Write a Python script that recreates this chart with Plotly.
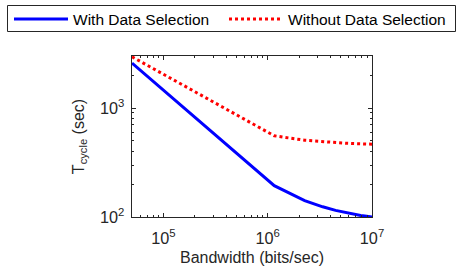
import plotly.graph_objects as go

bandwidth = [50000, 1155600, 2261100, 3366700, 4472200, 5577800, 6683300, 7788900, 8894400, 10000000]
with_selection = [2580, 194, 141.5, 124, 115, 109.6, 106, 103.4, 101.5, 100]
without_selection = [2950, 556, 506, 489, 480, 475, 471.5, 469, 467, 466]

FONT = "Liberation Sans, Arial, sans-serif"
AX = "#262626"

W, H = 457, 274
L, R, T, B = 132, 85, 56, 57
pw, ph = W - L - R, H - T - B

def px(x):
    return (x - L) / pw

def py(y):
    return 1 + (T - y) / ph

fig = go.Figure()
fig.add_trace(go.Scatter(x=bandwidth, y=with_selection, mode="lines",
                         name="With Data Selection", legend="legend",
                         line=dict(color="#0000ff", width=3)))
fig.add_trace(go.Scatter(x=bandwidth, y=without_selection, mode="lines",
                         name="Without Data Selection", legend="legend2",
                         line=dict(color="#ff0000", width=3, dash="dot")))

axis_common = dict(
    type="log", showline=True, linecolor=AX, linewidth=1, mirror="ticks",
    ticks="inside", ticklen=4, tickcolor=AX, showgrid=False, zeroline=False,
    exponentformat="power", dtick=1, automargin=False,
    tickfont=dict(family=FONT, size=13, color=AX),
    minor=dict(ticks="inside", ticklen=2, tickcolor=AX, dtick="D1", showgrid=False),
)

fig.update_xaxes(range=[4.69897, 7], ticklabelstandoff=7,
                 title=dict(text="Bandwidth (bits/sec)", font=dict(family=FONT, size=16, color=AX), standoff=5),
                 **axis_common)
fig.update_yaxes(range=[2, 3.47712], ticklabelstandoff=4,
                 title=dict(text="T<sub>cycle</sub> (sec)", font=dict(family=FONT, size=16, color=AX), standoff=11),
                 **axis_common)

leg_common = dict(orientation="h", xanchor="left", yanchor="top",
                  bgcolor="rgba(0,0,0,0)", borderwidth=0,
                  font=dict(family=FONT, size=15.5, color="black"),
                  itemwidth=54)

fig.add_shape(type="rect", xref="paper", yref="paper",
              x0=px(7.5), x1=px(455.5), y0=py(31.5), y1=py(5.5),
              line=dict(color=AX, width=1), fillcolor="white", layer="below")

fig.update_layout(
    width=W, height=H,
    margin=dict(l=L, r=R, t=T, b=B, pad=0, autoexpand=False),
    paper_bgcolor="white", plot_bgcolor="white",
    showlegend=True,
    legend=dict(x=px(9), y=py(2.5), **leg_common),
    legend2=dict(x=px(224), y=py(2.5), **leg_common),
)

fig.write_html("out.html", config={"displayModeBar": False},
               post_script="document.body.style.margin='0';")
